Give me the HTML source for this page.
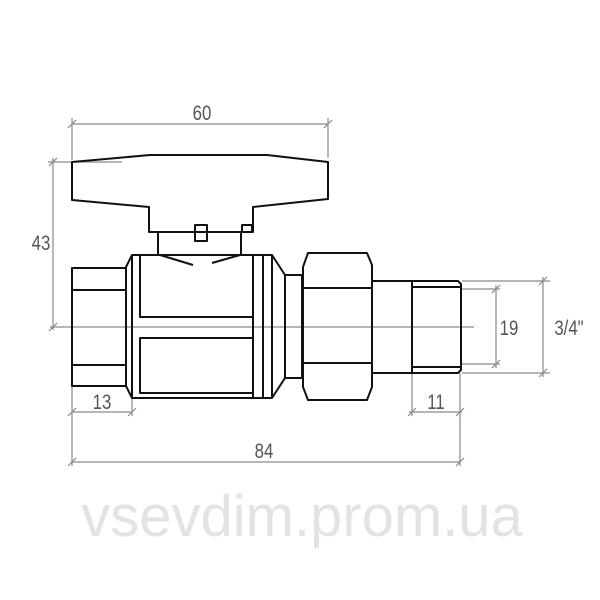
<!DOCTYPE html>
<html><head><style>body{margin:0;background:#fff}svg{display:block}</style></head><body>
<svg width="600" height="600" viewBox="0 0 600 600" xmlns="http://www.w3.org/2000/svg">
<text x="302" y="536" font-family="Liberation Sans, sans-serif" font-size="58" fill="#e3e3e3" text-anchor="middle">vsevdim.prom.ua</text>
<g stroke="#8a8a8a" stroke-width="1.2" fill="none">
<line x1="50" y1="327" x2="474" y2="327"/>
<line x1="72" y1="124" x2="328" y2="124"/>
<line x1="72" y1="118" x2="72" y2="160"/><line x1="328" y1="118" x2="328" y2="158"/>
<line x1="68" y1="128" x2="76" y2="120"/><line x1="324" y1="128" x2="332" y2="120"/>
<line x1="53" y1="158" x2="53" y2="330"/>
<line x1="48" y1="162" x2="122" y2="162"/>
<line x1="49" y1="166" x2="57" y2="158"/><line x1="49" y1="331" x2="57" y2="323"/>
<line x1="72" y1="386" x2="72" y2="466"/><line x1="132" y1="398" x2="132" y2="416"/>
<line x1="72" y1="412" x2="132" y2="412"/>
<line x1="68" y1="416" x2="76" y2="408"/><line x1="128" y1="416" x2="136" y2="408"/>
<line x1="412" y1="373" x2="412" y2="416"/><line x1="460" y1="373" x2="460" y2="466"/>
<line x1="409" y1="412" x2="462" y2="412"/>
<line x1="408" y1="416" x2="416" y2="408"/><line x1="456" y1="416" x2="464" y2="408"/>
<line x1="72" y1="462" x2="460" y2="462"/>
<line x1="68" y1="466" x2="76" y2="458"/><line x1="456" y1="466" x2="464" y2="458"/>
<line x1="462" y1="281" x2="550" y2="281"/><line x1="462" y1="373" x2="550" y2="373"/>
<line x1="543" y1="277" x2="543" y2="377"/>
<line x1="539" y1="285" x2="547" y2="277"/><line x1="539" y1="377" x2="547" y2="369"/>
<line x1="462" y1="289" x2="500" y2="289"/><line x1="462" y1="364" x2="500" y2="364"/>
<line x1="496" y1="285" x2="496" y2="368"/>
<line x1="492" y1="293" x2="500" y2="285"/><line x1="492" y1="368" x2="500" y2="360"/>
</g>
<g font-family="Liberation Sans, sans-serif" font-size="21" fill="#555" text-anchor="middle">
<text x="202" y="120" transform="translate(202 0) scale(0.8 1) translate(-202 0)">60</text>
<text x="41" y="250" transform="translate(41 0) scale(0.8 1) translate(-41 0)">43</text>
<text x="102" y="409" transform="translate(102 0) scale(0.8 1) translate(-102 0)">13</text>
<text x="436" y="409" transform="translate(436 0) scale(0.8 1) translate(-436 0)">11</text>
<text x="264" y="458" transform="translate(264 0) scale(0.8 1) translate(-264 0)">84</text>
<text x="509" y="335" transform="translate(509 0) scale(0.8 1) translate(-509 0)">19</text>
<text x="569" y="335" transform="translate(569 0) scale(0.8 1) translate(-569 0)">3/4"</text>
</g>
<g stroke="#111" stroke-width="2" fill="none" stroke-linejoin="round">
<path d="M72 162 L150 155 L267 155 L328 162 L328 199 L253 207 L253 232 L149 232 L149 207 L72 200 Z"/>
<rect x="195" y="225" width="12" height="16"/>
<rect x="242" y="225" width="10" height="7"/>
<line x1="158" y1="232" x2="158" y2="255"/><line x1="241" y1="232" x2="241" y2="255"/>
<path d="M132 255 L272 255 L285 275 L285 378 L272 398 L132 398 L126 386 L126 267 Z"/>
<line x1="132" y1="255" x2="132" y2="398"/>
<line x1="253" y1="255" x2="253" y2="398"/>
<line x1="263" y1="255" x2="263" y2="398"/>
<line x1="272" y1="255" x2="272" y2="398"/>
<path d="M140 255 L140 317 L253 317"/>
<rect x="140" y="338" width="113" height="55"/>
<line x1="160" y1="255" x2="193" y2="265"/><line x1="212" y1="263" x2="240" y2="255"/>
<rect x="72" y="268" width="54" height="118"/>
<line x1="72" y1="290" x2="126" y2="290"/><line x1="72" y1="365" x2="126" y2="365"/>
<rect x="285" y="275" width="17" height="103"/>
<path d="M303 267 L308 253 L367 253 L372 265 L372 387 L367 400 L308 400 L303 387 Z"/>
<line x1="303" y1="288" x2="372" y2="288"/><line x1="303" y1="363" x2="372" y2="363"/>
<path d="M372 281 L458 281 L461 284 L461 370 L458 373 L372 373"/>
<line x1="412" y1="281" x2="412" y2="373"/>
<line x1="412" y1="287" x2="460" y2="287"/><line x1="412" y1="367" x2="460" y2="367"/>
</g>
</svg>
</body></html>
